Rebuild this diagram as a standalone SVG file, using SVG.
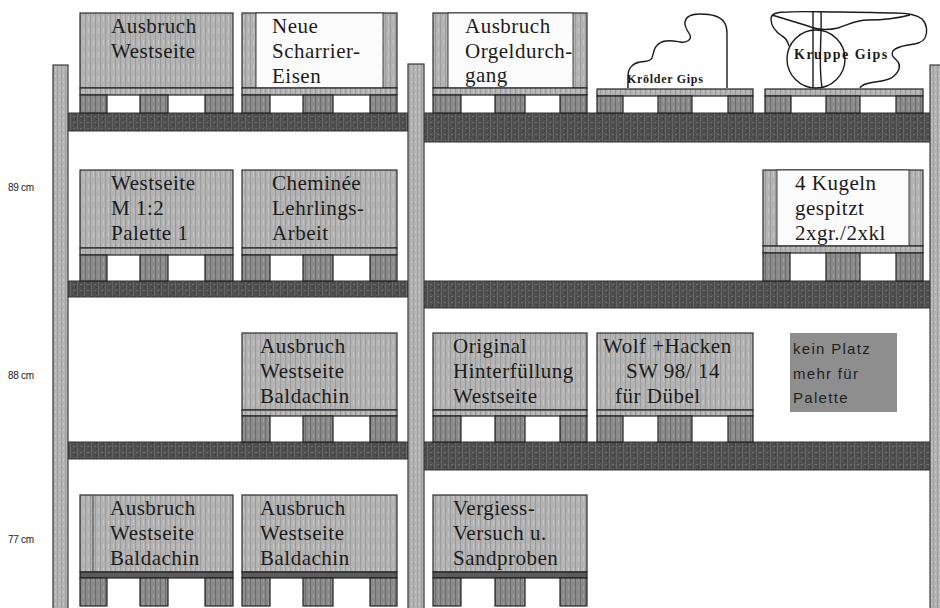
<svg xmlns="http://www.w3.org/2000/svg" width="940" height="608" viewBox="0 0 940 608">
  <defs>
    <!-- scanned-looking vertical grain for crate boards -->
    <pattern id="grain" width="5" height="12" patternUnits="userSpaceOnUse">
      <rect width="5" height="12" fill="#b3b3b3"/>
      <rect x="0" width="1" height="12" fill="#9c9c9c"/>
      <rect x="3" y="4" width="1" height="5" fill="#c4c4c4"/>
    </pattern>
    <pattern id="grainDark" width="5" height="8" patternUnits="userSpaceOnUse">
      <rect width="5" height="8" fill="#8a8a8a"/>
      <rect x="0" width="1" height="8" fill="#6e6e6e"/>
      <rect x="3" y="2" width="1" height="4" fill="#9d9d9d"/>
    </pattern>
    <pattern id="beamTex" width="7" height="6" patternUnits="userSpaceOnUse">
      <rect width="7" height="6" fill="#4f4f4f"/>
      <rect x="0" width="1" height="6" fill="#666"/>
      <rect x="3" y="2" width="2" height="1" fill="#707070"/>
      <rect x="5" y="4" width="1" height="2" fill="#3c3c3c"/>
    </pattern>
    <pattern id="postTex" width="4" height="6" patternUnits="userSpaceOnUse">
      <rect width="4" height="6" fill="#b4b4b4"/>
      <rect x="1" width="1" height="6" fill="#a0a0a0"/>
      <rect x="3" y="3" width="1" height="2" fill="#c6c6c6"/>
    </pattern>
    <style>
      .box   { fill: url(#grain); stroke: #2e2e2e; stroke-width: 1.2; }
      .panel { fill: #fbfbfb; stroke: #2e2e2e; stroke-width: 0.9; }
      .deck  { fill: url(#grain); stroke: #222; stroke-width: 1.2; }
      .floordeck { fill: #5a5a5a; stroke: #222; stroke-width: 1.2; }
      .block { fill: url(#grainDark); stroke: #222; stroke-width: 1.2; }
      .beam  { fill: url(#beamTex); stroke: #333; stroke-width: 1; }
      .post  { fill: url(#postTex); stroke: #3a3a3a; stroke-width: 1.2; }
      .lbl   { font-family: "Liberation Serif", "Times New Roman", serif; font-size: 21px; letter-spacing: 0.5px; fill: #1b1b1b; }
      .side  { font-family: "Liberation Sans", Arial, sans-serif; font-size: 10px; letter-spacing: -0.3px; fill: #222; }
      .note  { font-family: "Liberation Sans", Arial, sans-serif; font-size: 15px; letter-spacing: 1.3px; fill: #1e1e1e; }
      .sketch { fill: none; stroke: #1a1a1a; stroke-width: 1.4; stroke-linejoin: round; }
      .gips  { font-family: "Liberation Serif", "Times New Roman", serif; font-weight: bold; fill: #1a1a1a; }
    </style>
  </defs>

  <rect width="940" height="608" fill="#ffffff"/>

  <!-- shelf beams and uprights -->
  <g id="rack">
    <rect class="beam" x="68" y="113" width="340" height="18"/>
    <rect class="beam" x="423" y="113" width="508" height="29"/>
    <rect class="beam" x="68" y="281" width="340" height="16"/>
    <rect class="beam" x="423" y="281" width="508" height="27"/>
    <rect class="beam" x="68" y="442" width="340" height="17"/>
    <rect class="beam" x="423" y="442" width="508" height="28"/>
    <rect class="post" x="53" y="65" width="15" height="545"/>
    <rect class="post" x="408" y="64" width="16" height="546"/>
    <rect class="post" x="930" y="65" width="12" height="545"/>
  </g>

  <!-- height marks -->
  <g id="heights">
    <text class="side" x="8" y="191">89 cm</text>
    <text class="side" x="8" y="379">88 cm</text>
    <text class="side" x="8" y="543">77 cm</text>
  </g>

  <g id="connectors"/>

  <!-- top shelf -->
  <g id="p-ausbruch-westseite-1">
    <rect class="box" x="80" y="13" width="153" height="75"/>
    <rect class="deck" x="80" y="88" width="153" height="7"/>
    <rect class="block" x="80" y="95" width="27" height="18"/>
    <rect class="block" x="140" y="95" width="28" height="18"/>
    <rect class="block" x="205" y="95" width="28" height="18"/>
    <text class="lbl" x="111" y="33">Ausbruch</text>
    <text class="lbl" x="111" y="58">Westseite</text>
  </g>

  <g id="p-scharrier-eisen">
    <rect class="box" x="242" y="13" width="155" height="75"/>
    <rect class="panel" x="256" y="13" width="127" height="75"/>
    <rect class="deck" x="242" y="88" width="155" height="7"/>
    <rect class="block" x="242" y="95" width="28" height="18"/>
    <rect class="block" x="303" y="95" width="30" height="18"/>
    <rect class="block" x="370" y="95" width="27" height="18"/>
    <text class="lbl" x="272" y="33">Neue</text>
    <text class="lbl" x="272" y="58">Scharrier-</text>
    <text class="lbl" x="272" y="83">Eisen</text>
  </g>

  <g id="p-orgeldurchgang">
    <rect class="box" x="433" y="13" width="154" height="75"/>
    <rect class="panel" x="448" y="13" width="125" height="75"/>
    <rect class="deck" x="433" y="88" width="154" height="7"/>
    <rect class="block" x="433" y="95" width="28" height="18"/>
    <rect class="block" x="495" y="95" width="30" height="18"/>
    <rect class="block" x="560" y="95" width="27" height="18"/>
    <text class="lbl" x="465" y="33">Ausbruch</text>
    <text class="lbl" x="465" y="58">Orgeldurch-</text>
    <text class="lbl" x="465" y="82">gang</text>
  </g>

  <g id="p-gips-1">
    <path class="sketch" d="M628,88 L628,76 C628,68 633,63 640,62 C646,61 650,62 652,58 C654,52 654,46 660,43 C666,39 674,41 680,42 C686,43 692,40 690,35 C688,31 684,27 685,22 C686,16 692,14 700,14 C710,14 720,16 724,22 C727,26 727,30 727,34 L727,88"/>
    <rect class="deck" x="597" y="89" width="156" height="7"/>
    <rect class="block" x="597" y="96" width="26" height="17"/>
    <rect class="block" x="658" y="96" width="34" height="17"/>
    <rect class="block" x="728" y="96" width="25" height="17"/>
    <text class="gips" x="627" y="83" font-size="12" letter-spacing="0.7">Krölder Gips</text>
  </g>

  <g id="p-gips-2">
    <path class="sketch" d="M860,88 C862,84 868,83 875,82 C884,81 890,80 894,76 C899,72 901,66 898,62 C895,58 890,56 893,51 C896,47 902,46 908,45 C916,44 922,43 925,38 C928,32 927,24 922,19 C916,14 905,13 895,13 C880,13 860,12 840,12 C820,12 800,11 788,12 C778,12 771,13 771,19 C771,26 776,32 782,36 C786,38 788,42 789,46"/>
    <path class="sketch" d="M772,15 C782,18 795,22 808,26 C815,29 825,31 838,28 C848,25 855,20 868,20 C882,20 895,19 910,15"/>
    <circle class="sketch" cx="816" cy="59" r="29"/>
    <path class="sketch" d="M813,12 L813,88 M821,12 C822,40 818,62 822,88"/>
    <rect class="deck" x="765" y="89" width="158" height="7"/>
    <rect class="block" x="765" y="96" width="26" height="17"/>
    <rect class="block" x="826" y="96" width="34" height="17"/>
    <rect class="block" x="896" y="96" width="27" height="17"/>
    <text class="gips" x="794" y="59" font-size="14" letter-spacing="1.5">Kruppe Gips</text>
  </g>

  <!-- second shelf -->
  <g id="p-westseite-m12">
    <rect class="box" x="80" y="170" width="153" height="78"/>
    <rect class="deck" x="80" y="248" width="153" height="7"/>
    <rect class="block" x="80" y="255" width="27" height="26"/>
    <rect class="block" x="140" y="255" width="28" height="26"/>
    <rect class="block" x="205" y="255" width="28" height="26"/>
    <text class="lbl" x="111" y="190">Westseite</text>
    <text class="lbl" x="111" y="215">M 1:2</text>
    <text class="lbl" x="111" y="240">Palette 1</text>
  </g>

  <g id="p-cheminee">
    <rect class="box" x="242" y="170" width="155" height="78"/>
    <rect class="deck" x="242" y="248" width="155" height="7"/>
    <rect class="block" x="242" y="255" width="28" height="26"/>
    <rect class="block" x="303" y="255" width="30" height="26"/>
    <rect class="block" x="370" y="255" width="27" height="26"/>
    <text class="lbl" x="272" y="190">Cheminée</text>
    <text class="lbl" x="272" y="215">Lehrlings-</text>
    <text class="lbl" x="272" y="240">Arbeit</text>
  </g>

  <g id="p-kugeln">
    <rect class="box" x="763" y="170" width="160" height="76"/>
    <rect class="panel" x="777" y="170" width="132" height="76"/>
    <rect class="deck" x="763" y="246" width="160" height="7"/>
    <rect class="block" x="763" y="253" width="27" height="28"/>
    <rect class="block" x="826" y="253" width="34" height="28"/>
    <rect class="block" x="896" y="253" width="27" height="28"/>
    <text class="lbl" x="795" y="190">4 Kugeln</text>
    <text class="lbl" x="795" y="215">gespitzt</text>
    <text class="lbl" x="795" y="240">2xgr./2xkl</text>
  </g>

  <!-- third shelf -->
  <g id="p-baldachin-1">
    <rect class="box" x="242" y="333" width="155" height="77"/>
    <rect class="deck" x="242" y="410" width="155" height="6"/>
    <rect class="block" x="242" y="416" width="28" height="26"/>
    <rect class="block" x="303" y="416" width="30" height="26"/>
    <rect class="block" x="370" y="416" width="27" height="26"/>
    <text class="lbl" x="260" y="353">Ausbruch</text>
    <text class="lbl" x="260" y="378">Westseite</text>
    <text class="lbl" x="260" y="403">Baldachin</text>
  </g>

  <g id="p-hinterfuellung">
    <rect class="box" x="433" y="333" width="154" height="77"/>
    <rect class="deck" x="433" y="410" width="154" height="6"/>
    <rect class="block" x="433" y="416" width="28" height="26"/>
    <rect class="block" x="495" y="416" width="30" height="26"/>
    <rect class="block" x="560" y="416" width="27" height="26"/>
    <text class="lbl" x="453" y="353">Original</text>
    <text class="lbl" x="453" y="378">Hinterfüllung</text>
    <text class="lbl" x="453" y="403">Westseite</text>
  </g>

  <g id="p-wolf-hacken">
    <rect class="box" x="597" y="333" width="156" height="77"/>
    <rect class="deck" x="597" y="410" width="156" height="6"/>
    <rect class="block" x="597" y="416" width="26" height="26"/>
    <rect class="block" x="658" y="416" width="34" height="26"/>
    <rect class="block" x="728" y="416" width="25" height="26"/>
    <text class="lbl" x="603" y="353">Wolf +Hacken</text>
    <text class="lbl" x="626" y="378">SW 98/ 14</text>
    <text class="lbl" x="615" y="403">für Dübel</text>
  </g>

  <g id="kein-platz">
    <rect x="790" y="333" width="107" height="79" fill="#8e8e8e"/>
    <text class="note" x="793" y="354">kein Platz</text>
    <text class="note" x="793" y="379">mehr für</text>
    <text class="note" x="793" y="403">Palette</text>
  </g>

  <!-- floor level -->
  <g id="p-baldachin-2">
    <rect class="box" x="80" y="495" width="153" height="77"/>
    <line x1="93" y1="496" x2="93" y2="572" stroke="#444" stroke-width="1"/>
    <rect class="floordeck" x="80" y="572" width="153" height="6"/>
    <rect class="block" x="80" y="578" width="27" height="28"/>
    <rect class="block" x="140" y="578" width="28" height="28"/>
    <rect class="block" x="205" y="578" width="28" height="28"/>
    <text class="lbl" x="110" y="515">Ausbruch</text>
    <text class="lbl" x="110" y="540">Westseite</text>
    <text class="lbl" x="110" y="565">Baldachin</text>
  </g>

  <g id="p-baldachin-3">
    <rect class="box" x="242" y="495" width="155" height="77"/>
    <rect class="floordeck" x="242" y="572" width="155" height="6"/>
    <rect class="block" x="242" y="578" width="28" height="28"/>
    <rect class="block" x="303" y="578" width="30" height="28"/>
    <rect class="block" x="370" y="578" width="27" height="28"/>
    <text class="lbl" x="260" y="515">Ausbruch</text>
    <text class="lbl" x="260" y="540">Westseite</text>
    <text class="lbl" x="260" y="565">Baldachin</text>
  </g>

  <g id="p-vergiess">
    <rect class="box" x="433" y="495" width="154" height="77"/>
    <rect class="floordeck" x="433" y="572" width="154" height="6"/>
    <rect class="block" x="433" y="578" width="28" height="28"/>
    <rect class="block" x="495" y="578" width="30" height="28"/>
    <rect class="block" x="560" y="578" width="27" height="28"/>
    <text class="lbl" x="453" y="515">Vergiess-</text>
    <text class="lbl" x="453" y="540">Versuch u.</text>
    <text class="lbl" x="453" y="565">Sandproben</text>
  </g>
</svg>
